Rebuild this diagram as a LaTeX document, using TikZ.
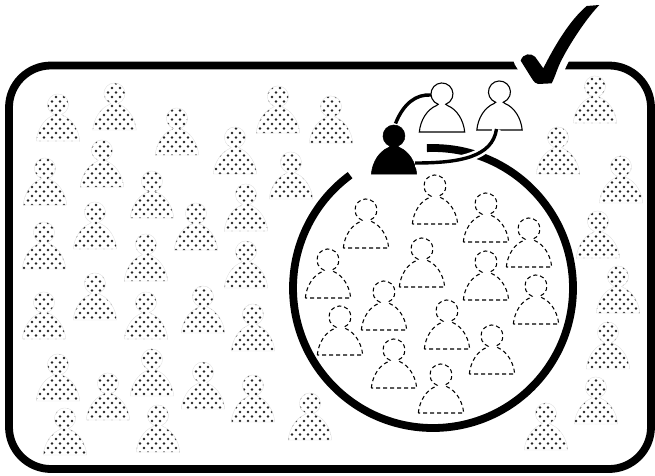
\documentclass[tikz,border=0pt]{standalone}
\usetikzlibrary{patterns}
\pgfdeclarepatternformonly{crowddots}{\pgfqpoint{-1.5pt}{-1.5pt}}{\pgfqpoint{10pt}{10pt}}{\pgfqpoint{8pt}{9pt}}{
  \pgfpathcircle{\pgfqpoint{0pt}{0pt}}{1.3pt}
  \pgfpathcircle{\pgfqpoint{4pt}{4.5pt}}{1.3pt}
  \pgfusepath{fill}
}
\tikzset{
  person/.pic={
    \path[pic actions] (-22.7,0) .. controls (-21.5,12) and (-15,22.5) .. (-5.5,26.5)
      -- (-3.8,27.7) arc[start angle=250,end angle=-70,radius=11]
      -- (5.5,26.5) .. controls (15,22.5) and (21.5,12) .. (22.7,0) -- cycle;
    \coordinate (-foot) at (-3,1);
    \coordinate (-crown) at (1.5,50.5);
    \coordinate (-hip) at (21,11);
    \coordinate (-ear) at (-11,37);
  },
  dotted person/.style={pattern=crowddots,pattern color=black!85,draw=black!12,line width=.4pt,scale=.96},
  dashed person/.style={draw=black,line width=1.05pt,dash pattern=on 4pt off 3pt,fill=white},
  white person/.style={draw=black,line width=1.1pt,fill=white},
  black person/.style={draw=black,line width=.5pt,fill=black},
  link/.style={line width=3.4pt,draw=black},
  halo/.style={line width=8.5pt,draw=white},
}
\begin{document}
\begin{tikzpicture}[x=1pt,y=1pt,yscale=-1]
  \useasboundingbox (0,0) rectangle (655,475);
  % outer frame
  \draw[line width=7.8pt,rounded corners=42pt] (9,65.5) rectangle (651,469);

  % everybody outside
  \foreach \px/\py in {58/141,114.5/130,177/155,278/133,331/143,235/174,102/187,45/205,152/218,291/199,
    246/231,95/249,196/250,44/269,146/281,246/288,95/320,44/339,203/333,146/339,253/351,58/401,152/396,
    203/409,108/420,253/422,65/455,158/452,310/440,595/123,558/174,621/203,598/258,618/313,608/369,
    596/424,546/450}
    \pic[dotted person] at (\px,\py) {person};

  % the sample
  \foreach \px/\py in {366/248,435/224,486/242,529/267,422/287,486/300,328/298,384/330,536/324,
    340/355,447/349,492/374,394/388,441/413}
    \pic[dashed person] at (\px,\py) {person};
  \draw[line width=7.8pt] (433,288) ++(267.5:140) arc[start angle=267.5,end angle=593.7,radius=140];

  % chosen ones
  \pic (lead) at (394,174) [black person] {person};
  \pic (left) at (442,132) [white person] {person};
  \pic (right) at (499.5,130) [white person] {person};
  \draw[halo] (lead-hip) .. controls +(45,0) and +(-4,28) .. (right-foot);
  \draw[link] (lead-hip) .. controls +(45,0) and +(-4,28) .. (right-foot);
  \draw[link] (lead-crown) .. controls +(8,-20) and +(-15,-1) .. (left-ear);

  % tick
  \path[fill=black,preaction={draw=white,line width=14pt,line join=round}]
    (599.3,5) -- (586.7,6) .. controls (570,20) and (555,45) .. (543.3,68.3)
    -- (535,56.7) .. controls (531,53) and (523,53) .. (520.7,60.7)
    -- (531.7,78.3) .. controls (534,82) and (536,84) .. (538.3,84)
    -- (551.7,83.3) .. controls (556,75) and (557,68) .. (563.3,56.7)
    .. controls (570,44) and (585,20) .. cycle;
\end{tikzpicture}
\end{document}
